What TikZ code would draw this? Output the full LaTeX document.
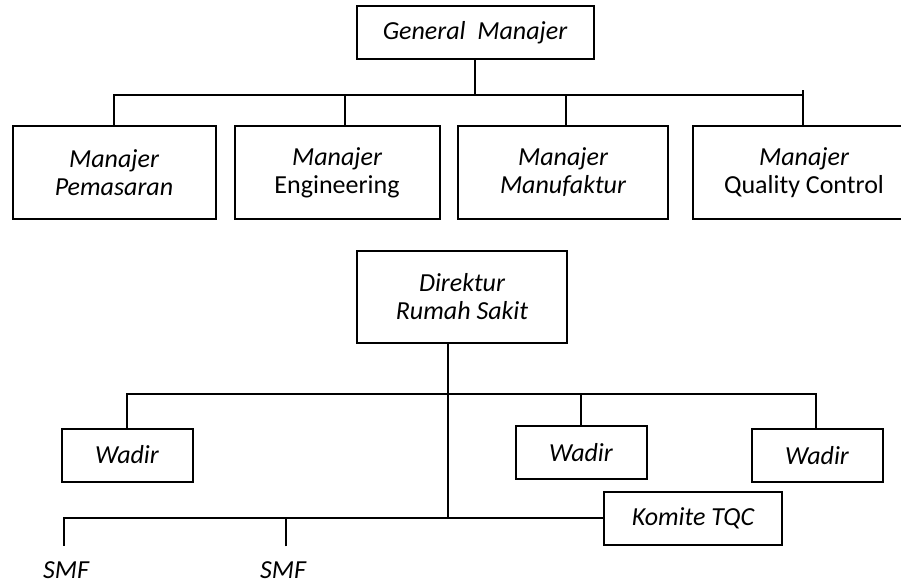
\documentclass[tikz,border=0pt]{standalone}
\usepackage{fontspec}
\setmainfont{Carlito}
\usepackage{tikz}
\tikzset{
  orgnode/.style = {align=center, inner sep=0pt, text centered,
    font=\fontsize{26}{28}\selectfont\itshape},
  org_box/.style = {orgnode, rectangle, draw=black, line width=2pt,
    minimum height=93pt},% kotak manajer
  org_wadir/.style = {orgnode, rectangle, draw=black, line width=2pt,
    minimum width=131pt, minimum height=53pt},% kotak wadir
  org_free/.style = {orgnode}% label tanpa kotak
}

\begin{document}
\begin{tikzpicture}[x=1pt, y=-1pt, line width=2pt]
\useasboundingbox (0,0) rectangle (901,585);
% bagan atas
\node [org_box, minimum width=237pt, minimum height=53pt] (gm) at (475,32.5) {General\ \ Manajer};
\node [org_box, minimum width=203pt] (pem) at (114,172.5) {Manajer\\Pemasaran};
\node [org_box, minimum width=205pt] (eng) at (337,172.5) {Manajer\\\upshape Engineering};
\node [org_box, minimum width=210pt] (man) at (563,172.5) {Manajer\\Manufaktur};
\node [org_box, minimum width=222pt] (qc) at (804,172.5) {Manajer\\\upshape Quality Control};
\coordinate (bar_a) at (0,95);
\draw (gm) -- (gm |- bar_a);
\draw (pem.north) |- ([xshift=-1pt]qc.north |- bar_a);
\draw ([xshift=8pt]eng.north) -- ([xshift=8pt]eng.north |- bar_a);
\draw ([xshift=3pt]man.north) -- ([xshift=3pt]man.north |- bar_a);
\draw ([xshift=-1pt]qc.north) -- ++(0,-35);
% bagan bawah
\node [org_box, minimum width=210pt, minimum height=92pt] (dir) at (462,297) {Direktur\\Rumah Sakit};
\node [org_wadir] (wd1) at (127,455) {Wadir};
\node [org_wadir] (wd2) at (581,452.5) {Wadir};
\node [org_wadir] (wd3) at (817,455.5) {Wadir};
\node [org_wadir, minimum width=178pt] (tqc) at (693,518) {Komite TQC};
\node [org_free] (smf1) at (66,570) {SMF};
\node [org_free] (smf2) at (283,570) {SMF};
\coordinate (bar_b) at (0,394);
\coordinate (smf_a) at ([xshift=-2pt, yshift=14pt]smf1.north);
\coordinate (smf_b) at ([xshift=3pt, yshift=14pt]smf2.north);
\draw ([xshift=-14pt]dir.south) -- ([xshift=-14pt]dir.south |- tqc.west);
\draw (wd1.north) |- ([xshift=-1pt]wd3.north |- bar_b) -- ([xshift=-1pt]wd3.north);
\draw (wd2.north) -- (wd2.north |- bar_b);
\draw (tqc.west) -| (smf_a);
\draw (smf_b) -- (smf_b |- tqc.west);
\end{tikzpicture}
\end{document}
